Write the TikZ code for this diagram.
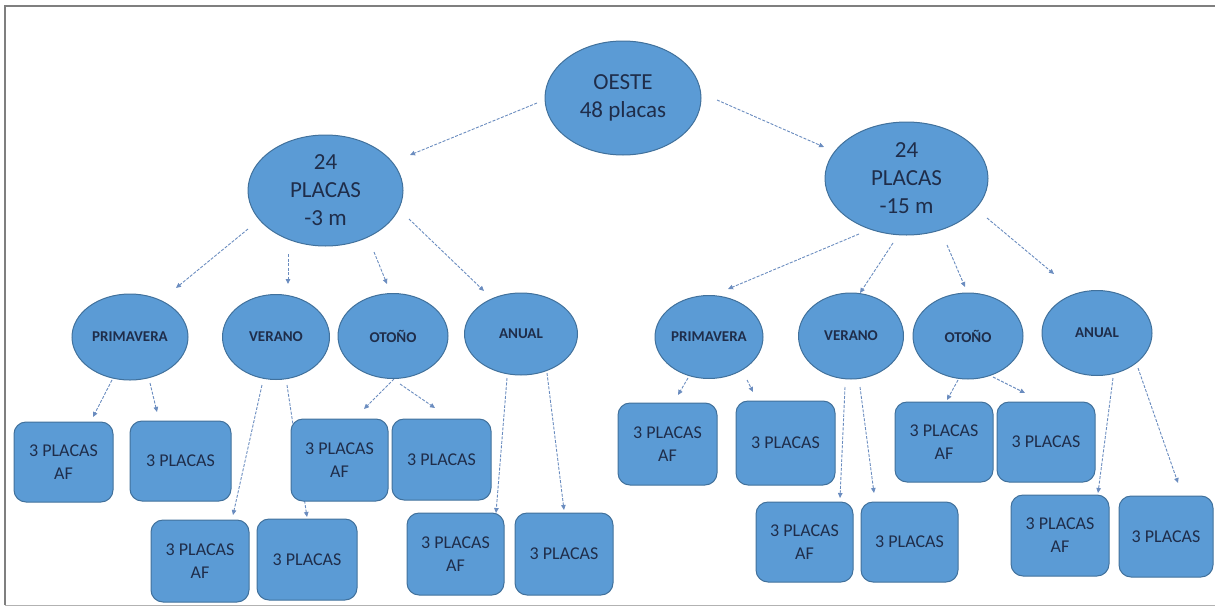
\documentclass[tikz,border=0pt]{standalone}
\usepackage{fontspec}
\setmainfont{Carlito}
\usetikzlibrary{shapes.geometric,arrows.meta,calc,backgrounds}

\definecolor{nodefill}{HTML}{5B9BD5}
\definecolor{nodeline}{HTML}{41719C}
\definecolor{ink}{HTML}{1F2D4A}
\definecolor{linkcol}{HTML}{6A8CBF}
\definecolor{framecol}{HTML}{7F7F7F}

\tikzset{
  bubble/.style={ellipse, fill=nodefill, draw=nodeline, line width=1pt,
    inner sep=0pt, text=ink, align=center},
  bigbubble/.style={bubble, font=\fontsize{23}{28}\selectfont},
  season/.style={bubble, font=\fontsize{15}{18}\selectfont\bfseries},
  tile/.style={rectangle, rounded corners=12pt, fill=nodefill, draw=nodeline,
    line width=1pt, inner sep=0pt, text=ink, align=center,
    font=\fontsize{18}{23}\selectfont},
  linkline/.style={draw=linkcol, line width=0.9pt, dash pattern=on 3pt off 1.5pt,
    -{Triangle[length=5pt,width=4.5pt]}},
}

% connector between two named nodes, each end offset from the node centre
\newcommand\linkfrom[4]{\draw[linkline] ($(#1)+(#2)$) -- ($(#3)+(#4)$);}

\begin{document}
\begin{tikzpicture}[x=1pt,y=-1pt]
\useasboundingbox (0,0) rectangle (1215,608);

% page frame
\draw[framecol, line width=1.8pt] (5,605) -- (5,6) -- (1216,6);
\draw[framecol!60, line width=1pt] (5,605) -- (1216,605);

% root and first level
\node[bigbubble, minimum width=156pt, minimum height=114pt] (oeste) at (623,98) {OESTE\\48 placas};
\node[bigbubble, minimum width=155pt, minimum height=111pt] (l24) at (325.5,190.5) {24\\PLACAS\\-3 m};
\node[bigbubble, minimum width=163pt, minimum height=113pt] (r24) at (906.5,178.5) {24\\PLACAS\\-15 m};

% seasons
\node[season, minimum width=116pt, minimum height=86pt] (prL) at (130,337) {PRIMAVERA};
\node[season, minimum width=107pt, minimum height=85pt] (veL) at (276,337) {VERANO};
\node[season, minimum width=110pt, minimum height=85pt] (otL) at (393,336) {OTOÑO};
\node[season, minimum width=113pt, minimum height=82pt] (anL) at (521,334) {ANUAL};
\node[season, minimum width=108pt, minimum height=83pt] (prR) at (709,337) {PRIMAVERA};
\node[season, minimum width=105pt, minimum height=86pt] (veR) at (851,336) {VERANO};
\node[season, minimum width=110pt, minimum height=86pt] (otR) at (968,336) {OTOÑO};
\node[season, minimum width=110pt, minimum height=85pt] (anR) at (1097,333) {ANUAL};

% plate groups
\node[tile, minimum width=99pt, minimum height=80pt] (b1) at (63.5,462) {3 PLACAS\\AF};
\node[tile, minimum width=101pt, minimum height=80pt] (b2) at (180.5,461) {3 PLACAS};
\node[tile, minimum width=98pt, minimum height=82pt] (b3) at (200,561) {3 PLACAS\\AF};
\node[tile, minimum width=100pt, minimum height=81pt] (b4) at (307,559.5) {3 PLACAS};
\node[tile, minimum width=97pt, minimum height=82pt] (b5) at (339.5,460) {3 PLACAS\\AF};
\node[tile, minimum width=99pt, minimum height=81pt] (b6) at (441.5,459.5) {3 PLACAS};
\node[tile, minimum width=97pt, minimum height=82pt] (b7) at (455.5,554) {3 PLACAS\\AF};
\node[tile, minimum width=98pt, minimum height=82pt] (b8) at (564,554) {3 PLACAS};
\node[tile, minimum width=99pt, minimum height=82pt] (b9) at (667.5,444) {3 PLACAS\\AF};
\node[tile, minimum width=99pt, minimum height=84pt] (b10) at (785.5,443) {3 PLACAS};
\node[tile, minimum width=97pt, minimum height=80pt] (b11) at (804.5,542) {3 PLACAS\\AF};
\node[tile, minimum width=97pt, minimum height=80pt] (b12) at (909.5,542) {3 PLACAS};
\node[tile, minimum width=98pt, minimum height=80pt] (b13) at (944,442) {3 PLACAS\\AF};
\node[tile, minimum width=98pt, minimum height=80pt] (b14) at (1046,442) {3 PLACAS};
\node[tile, minimum width=98pt, minimum height=81pt] (b15) at (1060,535.5) {3 PLACAS\\AF};
\node[tile, minimum width=94pt, minimum height=81pt] (b16) at (1166,536.5) {3 PLACAS};

% connectors, kept behind the shapes
\begin{scope}[on background layer]
\linkfrom{oeste}{-86,5}{l24}{84.5,-35.5}
\linkfrom{oeste}{94,2}{r24}{-82.5,-31.5}

\linkfrom{l24}{-77.5,38.5}{prL}{46,-49}
\linkfrom{l24}{-37.5,63.5}{veL}{12,-53}
\linkfrom{l24}{48.5,61.5}{otL}{-6,-52}
\linkfrom{l24}{83.5,28.5}{anL}{-37,-43}

\linkfrom{r24}{-47.5,55.5}{prR}{19,-48}
\linkfrom{r24}{-13.5,64.5}{veR}{9,-43}
\linkfrom{r24}{40.5,66.5}{otR}{-3,-49}
\linkfrom{r24}{80.5,39.5}{anR}{-43,-59}

\linkfrom{prL}{-18,43}{b1}{29.5,-45}
\linkfrom{prL}{20,46}{b2}{-23.5,-49}
\linkfrom{veL}{-14,48}{b3}{33,-46}
\linkfrom{veL}{11,48}{b4}{0,-42.5}
\linkfrom{otL}{1,43}{b5}{24.5,-51}
\linkfrom{otL}{7,48}{b6}{-6.5,-51.5}
\linkfrom{anL}{-14,44}{b7}{40.5,-41}
\linkfrom{anL}{26,39}{b8}{0,-44}

\linkfrom{prR}{-21,41}{b9}{10.5,-49}
\linkfrom{prR}{38,43}{b10}{-32.5,-51}
\linkfrom{veR}{-6,51}{b11}{35.5,-44}
\linkfrom{veR}{9,51}{b12}{-35.5,-49}
\linkfrom{otR}{-10,44}{b13}{3,-42}
\linkfrom{otR}{25,41}{b14}{-21,-49}
\linkfrom{anR}{16,45}{b15}{38,-42.5}
\linkfrom{anR}{41,35}{b16}{12,-53.5}
\end{scope}
\end{tikzpicture}
\end{document}
